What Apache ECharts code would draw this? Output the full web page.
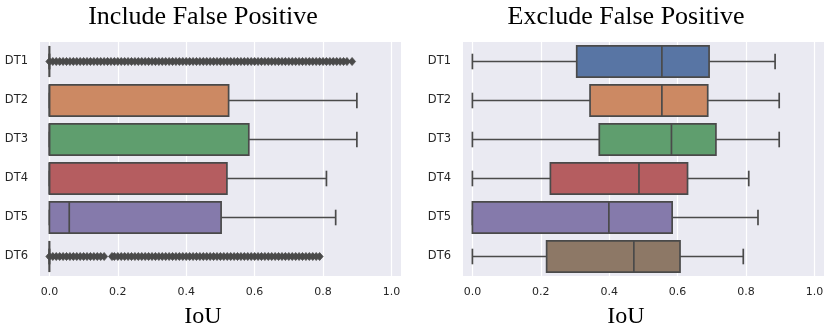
<!DOCTYPE html>
<html>
<head>
<meta charset="utf-8">
<script src="https://cdn.jsdelivr.net/npm/echarts@6/dist/echarts.min.js"></script>
<style>
html, body { margin: 0; padding: 0; background: #fff; }
#chart { width: 831px; height: 329px; }
</style>
</head>
<body>
<div id="chart"></div>
<script>
// categories and ticks
var categories = ['DT1', 'DT2', 'DT3', 'DT4', 'DT5', 'DT6'];
var tickValues = [0, 0.2, 0.4, 0.6, 0.8, 1.0];
var boxColors = ['#5875a4', '#cc8963', '#5f9e6e', '#b55d60', '#857aab', '#8d7866'];

// [min, q1, median, q3, max]
var includeBoxes = [
  [0, 0, 0, 0, 0],
  [0, 0, 0, 0.524, 0.899],
  [0, 0, 0, 0.583, 0.899],
  [0, 0, 0, 0.519, 0.810],
  [0, 0, 0.058, 0.502, 0.837],
  [0, 0, 0, 0, 0]
];
var excludeBoxes = [
  [0, 0.305, 0.554, 0.692, 0.885],
  [0, 0.344, 0.554, 0.688, 0.897],
  [0, 0.371, 0.582, 0.712, 0.897],
  [0, 0.228, 0.487, 0.629, 0.808],
  [0, 0, 0.399, 0.584, 0.835],
  [0, 0.217, 0.472, 0.607, 0.792]
];

// outliers (dense band)
var includeDT1Fliers = [
  0.00, 0.01, 0.02, 0.03, 0.04, 0.05, 0.06, 0.07, 0.08, 0.09,
  0.10, 0.11, 0.12, 0.13, 0.14, 0.15, 0.16, 0.17, 0.18, 0.19,
  0.20, 0.21, 0.22, 0.23, 0.24, 0.25, 0.26, 0.27, 0.28, 0.29,
  0.30, 0.31, 0.32, 0.33, 0.34, 0.35, 0.36, 0.37, 0.38, 0.39,
  0.40, 0.41, 0.42, 0.43, 0.44, 0.45, 0.46, 0.47, 0.48, 0.49,
  0.50, 0.51, 0.52, 0.53, 0.54, 0.55, 0.56, 0.57, 0.58, 0.59,
  0.60, 0.61, 0.62, 0.63, 0.64, 0.65, 0.66, 0.67, 0.68, 0.69,
  0.70, 0.71, 0.72, 0.73, 0.74, 0.75, 0.76, 0.77, 0.78, 0.79,
  0.80, 0.81, 0.82, 0.83, 0.84, 0.85, 0.86, 0.87, 0.885
];
var includeDT6Fliers = [
  0.00, 0.01, 0.02, 0.03, 0.04, 0.05, 0.06, 0.07, 0.08, 0.09,
  0.10, 0.11, 0.12, 0.13, 0.14, 0.15, 0.16, 0.183, 0.19, 0.20,
  0.21, 0.22, 0.23, 0.24, 0.25, 0.26, 0.27, 0.28, 0.29, 0.30,
  0.31, 0.32, 0.33, 0.34, 0.35, 0.36, 0.37, 0.38, 0.39, 0.40,
  0.41, 0.42, 0.43, 0.44, 0.45, 0.46, 0.47, 0.48, 0.49, 0.50,
  0.51, 0.52, 0.53, 0.54, 0.55, 0.56, 0.57, 0.58, 0.59, 0.60,
  0.61, 0.62, 0.63, 0.64, 0.65, 0.66, 0.67, 0.68, 0.69, 0.70,
  0.71, 0.72, 0.73, 0.74, 0.75, 0.76, 0.77, 0.78, 0.79
];

var lineColor = '#4a4a4a';

function boxData(boxes) {
  return boxes.map(function (b, i) { return [i].concat(b); });
}
function flierData(vals, cat) {
  return vals.map(function (v) { return [v, cat]; });
}

// seaborn style box: half-height caps, full-height median
function renderBox(params, api) {
  var ci = api.value(0);
  var pMin = api.coord([api.value(1), ci]);
  var pQ1 = api.coord([api.value(2), ci]);
  var pMd = api.coord([api.value(3), ci]);
  var pQ3 = api.coord([api.value(4), ci]);
  var pMax = api.coord([api.value(5), ci]);
  var band = api.size([0, 1])[1];
  var half = band * 0.8 / 2;
  var cap = half / 2;
  var y = pMin[1];
  var st = { stroke: lineColor, lineWidth: 1.7 };
  function line(x1, y1, x2, y2) {
    return { type: 'line', shape: { x1: x1, y1: y1, x2: x2, y2: y2 }, style: st };
  }
  return {
    type: 'group',
    children: [
      line(pMin[0], y, pQ1[0], y),
      line(pQ3[0], y, pMax[0], y),
      line(pMin[0], y - cap, pMin[0], y + cap),
      line(pMax[0], y - cap, pMax[0], y + cap),
      {
        type: 'rect',
        shape: { x: pQ1[0], y: y - half, width: pQ3[0] - pQ1[0], height: half * 2 },
        style: { fill: boxColors[params.dataIndex], stroke: lineColor, lineWidth: 1.7 }
      },
      line(pMd[0], y - half, pMd[0], y + half)
    ]
  };
}

function xAxisFor(i) {
  return {
    gridIndex: i,
    type: 'value',
    min: -0.0275,
    max: 1.028,
    axisLine: { show: false },
    axisTick: { show: false, customValues: tickValues },
    axisLabel: {
      customValues: tickValues,
      formatter: function (v) { return v.toFixed(1); },
      color: '#262626',
      fontFamily: 'DejaVu Sans',
      fontSize: 11,
      margin: 11
    },
    splitLine: { show: true, lineStyle: { color: '#ffffff', width: 1.2 } }
  };
}
function yAxisFor(i) {
  return {
    gridIndex: i,
    type: 'category',
    data: categories,
    inverse: true,
    axisLine: { show: false },
    axisTick: { show: false },
    splitLine: { show: false },
    axisLabel: { color: '#262626', fontFamily: 'DejaVu Sans', fontSize: 11.5, margin: 12 }
  };
}

var chart = echarts.init(document.getElementById('chart'), null, { renderer: 'canvas' });
var serifFont = '"Liberation Serif", "Times New Roman", serif';

var option = {
  animation: false,
  backgroundColor: '#ffffff',
  grid: [
    { left: 40, top: 42, width: 361, height: 234, show: true, backgroundColor: '#eaeaf2', borderWidth: 0 },
    { left: 463, top: 42, width: 361, height: 234, show: true, backgroundColor: '#eaeaf2', borderWidth: 0 }
  ],
  xAxis: [xAxisFor(0), xAxisFor(1)],
  yAxis: [yAxisFor(0), yAxisFor(1)],
  graphic: [
    { type: 'text', x: 203, y: 17, style: { text: 'Include False Positive', font: '26px ' + serifFont, fill: '#000', align: 'center', verticalAlign: 'middle' } },
    { type: 'text', x: 626, y: 17, style: { text: 'Exclude False Positive', font: '26px ' + serifFont, fill: '#000', align: 'center', verticalAlign: 'middle' } },
    { type: 'text', x: 203, y: 317, style: { text: 'IoU', font: '24px ' + serifFont, fill: '#000', align: 'center', verticalAlign: 'middle' } },
    { type: 'text', x: 626, y: 317, style: { text: 'IoU', font: '24px ' + serifFont, fill: '#000', align: 'center', verticalAlign: 'middle' } }
  ],
  series: [
    {
      type: 'custom', xAxisIndex: 0, yAxisIndex: 0,
      renderItem: renderBox,
      encode: { x: [1, 2, 3, 4, 5], y: 0 },
      data: boxData(includeBoxes)
    },
    {
      type: 'custom', xAxisIndex: 1, yAxisIndex: 1,
      renderItem: renderBox,
      encode: { x: [1, 2, 3, 4, 5], y: 0 },
      data: boxData(excludeBoxes)
    },
    {
      type: 'scatter', xAxisIndex: 0, yAxisIndex: 0,
      symbol: 'diamond', symbolSize: [7, 8],
      itemStyle: { color: lineColor, opacity: 1, borderColor: lineColor, borderWidth: 0.8 },
      data: flierData(includeDT1Fliers, 'DT1').concat(flierData(includeDT6Fliers, 'DT6'))
    }
  ]
};
chart.setOption(option);
</script>
</body>
</html>
